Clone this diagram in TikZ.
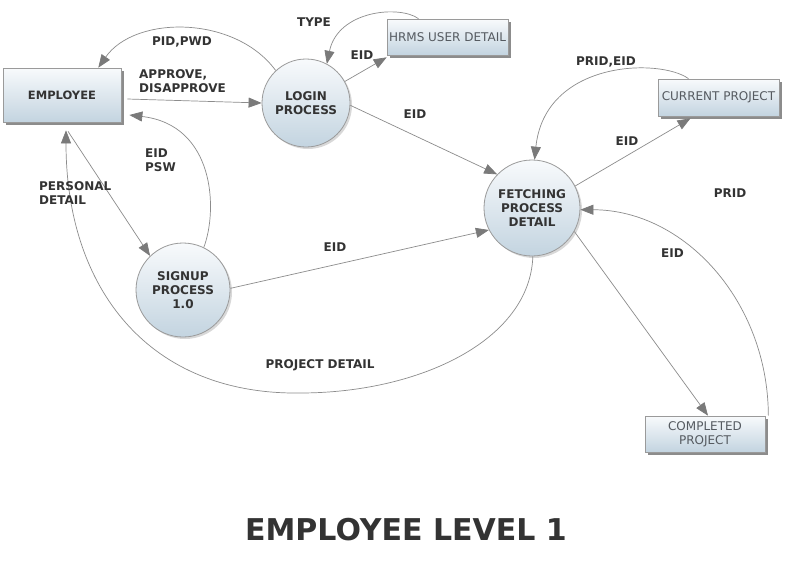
\documentclass[tikz,border=0pt]{standalone}
\usepackage{fontspec}
\setmainfont{DejaVu Sans}
\usetikzlibrary{arrows.meta,shadows}
\definecolor{txt}{HTML}{333333}
\definecolor{stxt}{HTML}{555A60}
\definecolor{ln}{HTML}{8C8C8C}
\definecolor{ahd}{HTML}{7A7A7A}
\definecolor{topc}{HTML}{F8FAFC}
\definecolor{botc}{HTML}{C3D4E0}
\definecolor{brd}{HTML}{9A9A9A}
\tikzset{
  proc/.style={circle, draw=brd, line width=0.8pt, top color=topc, bottom color=botc,
    inner sep=0pt, align=center, font=\fontsize{12}{14}\selectfont\bfseries, text=txt,
    drop shadow={shadow xshift=2pt,shadow yshift=-2pt,opacity=0.3}},
  store/.style={rectangle, draw=brd, line width=0.7pt, top color=topc, bottom color=botc,
    inner sep=1pt, align=center, font=\fontsize{12}{14}\selectfont, text=stxt,
    drop shadow={shadow xshift=3pt,shadow yshift=-3pt,fill=black!60,opacity=0.75}},
  ext/.style={store, font=\fontsize{11.5}{14}\selectfont\bfseries, text=txt},
  flow/.style={draw=ln, line width=0.7pt, -{Triangle[length=13pt,width=10pt,color=ahd]}},
  lbl/.style={font=\fontsize{12}{14}\selectfont\bfseries, text=txt, inner sep=0pt, align=left}
}
\begin{document}
\begin{tikzpicture}[x=1pt,y=-1pt]
\useasboundingbox[fill=white] (0,0) rectangle (792,570);

% nodes
\node[ext, minimum width=118pt, minimum height=54pt] (E) at (62,95) {EMPLOYEE};
\node[proc, minimum size=88pt] (L) at (306,103) {LOGIN\\PROCESS};
\node[store, minimum width=121pt, minimum height=36pt] (H) at (447.5,37) {HRMS USER DETAIL};
\node[proc, minimum size=96pt] (F) at (532,208) {FETCHING\\PROCESS\\DETAIL};
\node[proc, minimum size=94pt] (S) at (183,290) {SIGNUP\\PROCESS\\1.0};
\node[store, minimum width=121pt, minimum height=37pt] (CP) at (718.5,97.5) {CURRENT PROJECT};
\node[store, minimum width=120pt, minimum height=36pt] (CO) at (705,434) {COMPLETED\\PROJECT};
\coordinate (pd) at (300,393);

% connectors
\draw[flow] (L.133) .. controls (235,15) and (135,15) .. (E.37);
\draw[flow] ([xshift=6pt,yshift=-4pt]E.east) -- (L.west);
\draw[flow] (L.29) -- ([yshift=-2pt]H.south west);
\draw[flow] ([xshift=-29pt]H.north) .. controls (400,5) and (338,10) .. (L.62);
\draw[flow] (L.-3) -- (F.136);
\draw[flow] ([xshift=-30pt]CP.north) .. controls (660,58) and (545,60) .. (F.87);
\draw[flow] (F.27) -- ([xshift=-28pt,yshift=-2pt]CP.south);
\draw[flow] ([xshift=3pt]CO.north east) .. controls (768,302) and (685,210) .. (F.-2);
\draw[flow] (F.-29) -- ([xshift=3pt]CO.north);
\draw[flow] (F.-89) .. controls (530,340) and (420,393) .. (pd) .. controls (150,395) and (66,290) .. ([xshift=4pt,yshift=-8pt]E.south);
\draw[flow] ([xshift=6pt,yshift=-9pt]E.south) -- (S.134);
\draw[flow] (S.64) .. controls (218,210) and (215,125) .. ([xshift=8pt,yshift=-20pt]E.east);
\draw[flow] (S.2) -- (F.207);

% labels
\node[lbl] (l1) at (314,22) {TYPE};
\node[lbl] (l2) at (182,42) {PID,PWD};
\node[lbl] (l3) at (362,55) {EID};
\node[lbl, anchor=north west] (l4) at (139,69) {APPROVE,\\DISAPPROVE};
\node[lbl, anchor=north west] (l5) at (145,149) {EID\\PSW};
\node[lbl, anchor=north west] (l6) at (39,181) {PERSONAL\\DETAIL};
\node[lbl] (l7) at (335,247) {EID};
\node[lbl] (l8) at (320,365.5) {PROJECT DETAIL};
\node[lbl] (l9) at (415,114.5) {EID};
\node[lbl] (l10) at (606,61.5) {PRID,EID};
\node[lbl] (l11) at (627,141) {EID};
\node[lbl] (l12) at (730,193.5) {PRID};
\node[lbl] (l13) at (672.5,253.5) {EID};

% title
\node[font=\fontsize{30}{36}\selectfont\bfseries, text=txt, inner sep=0pt] (T) at (406,530) {EMPLOYEE LEVEL 1};
\end{tikzpicture}
\end{document}
